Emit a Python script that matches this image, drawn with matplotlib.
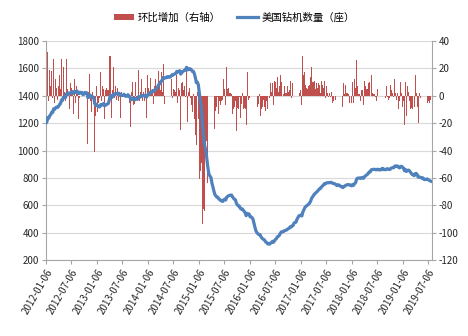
import matplotlib
matplotlib.use("Agg")
import matplotlib.pyplot as plt
import numpy as np
import pandas as pd

plt.rcParams['font.family'] = ['Noto Sans CJK SC', 'DejaVu Sans']
plt.rcParams['axes.unicode_minus'] = False

# weekly US rig count, starting 2012-01-06
start_date = "2012-01-06"
rig_count = [
    # 2012
    1200, 1208, 1240, 1236, 1255, 1262, 1280, 1278, 1305, 1300,
    1312, 1318, 1315, 1322, 1337, 1342, 1369, 1366, 1387, 1390,
    1386, 1413, 1418, 1421, 1411, 1420, 1426, 1430, 1417, 1429,
    1424, 1431, 1435, 1418, 1416, 1426, 1421, 1424, 1408, 1412,
    1424, 1418, 1421, 1386, 1389, 1405, 1401, 1389, 1392, 1386,
    1345, 1330,
    # 2013
    1337, 1325, 1320, 1318, 1335, 1331, 1338, 1343, 1326, 1330,
    1336, 1340, 1344, 1373, 1402, 1386, 1390, 1411, 1409, 1416,
    1413, 1419, 1415, 1418, 1402, 1405, 1401, 1404, 1411, 1398,
    1401, 1396, 1408, 1398, 1393, 1370, 1373, 1383, 1376, 1370,
    1380, 1377, 1374, 1393, 1389, 1392, 1404, 1400, 1403, 1399,
    1405, 1389,
    # 2014
    1404, 1410, 1413, 1426, 1430, 1435, 1429, 1436, 1448, 1452,
    1457, 1475, 1486, 1490, 1507, 1510, 1533, 1527, 1530, 1532,
    1539, 1536, 1540, 1536, 1541, 1553, 1551, 1556, 1560, 1563,
    1578, 1573, 1579, 1583, 1558, 1567, 1577, 1581, 1588, 1587,
    1608, 1589, 1592, 1598, 1596, 1589, 1577, 1578, 1561, 1532,
    1496, 1499,
    # 2015
    1482, 1421, 1366, 1317, 1223, 1140, 1056, 1019, 986, 922,
    866, 825, 813, 802, 760, 734, 703, 679, 668, 660,
    659, 646, 642, 635, 631, 628, 640, 645, 638, 659,
    664, 670, 672, 674, 675, 662, 652, 644, 640, 614,
    605, 595, 594, 578, 572, 574, 564, 555, 545, 524,
    541, 538,
    # 2016
    536, 516, 515, 510, 498, 467, 439, 413, 400, 392,
    386, 387, 372, 362, 354, 351, 343, 332, 328, 318,
    318, 316, 325, 328, 337, 330, 341, 351, 357, 371,
    374, 381, 396, 406, 406, 407, 414, 416, 418, 425,
    428, 432, 443, 441, 450, 452, 471, 474, 477, 498,
    510, 523,
    # 2017
    525, 529, 522, 551, 566, 583, 591, 597, 602, 609,
    617, 631, 652, 662, 672, 683, 688, 697, 703, 712,
    720, 722, 733, 741, 747, 758, 756, 763, 765, 764,
    766, 765, 768, 763, 759, 759, 756, 749, 744, 750,
    748, 743, 736, 737, 729, 738, 739, 747, 749, 751,
    752, 747,
    # 2018
    747, 742, 752, 747, 759, 765, 791, 798, 799, 800,
    796, 800, 804, 797, 808, 815, 820, 825, 834, 844,
    844, 859, 861, 862, 863, 862, 858, 863, 863, 858,
    861, 859, 869, 869, 860, 862, 860, 867, 866, 863,
    861, 869, 873, 875, 874, 886, 888, 885, 887, 877,
    873, 883,
    # 2019
    885, 877, 873, 852, 862, 847, 854, 857, 853, 843,
    834, 824, 824, 816, 831, 833, 825, 805, 807, 805,
    802, 797, 800, 789, 788, 789, 793, 788, 784, 779,
    776,
]

tick_dates = [
    "2012-01-06", "2012-07-06", "2013-01-06", "2013-07-06",
    "2014-01-06", "2014-07-06", "2015-01-06", "2015-07-06",
    "2016-01-06", "2016-07-06", "2017-01-06", "2017-07-06",
    "2018-01-06", "2018-07-06", "2019-01-06", "2019-07-06",
]
legend_labels = ["环比增加（右轴）", "美国钻机数量（座）"]
left_ticks = list(range(200, 1801, 200))
right_ticks = list(range(-120, 41, 20))

dates = pd.date_range(start_date, periods=len(rig_count), freq="7D")
weekly_change = np.diff(rig_count)

bar_color = "#C0504D"
line_color = "#4F81BD"
axis_color = "#A6A6A6"
text_color = "#262626"

fig = plt.figure(figsize=(4.68, 3.36), dpi=100)
ax = fig.add_axes([0.098, 0.226, 0.825, 0.652])
ax2 = ax.twinx()

# bars on the right axis
bars = ax.bar(dates[1:], weekly_change, width=6, color=bar_color, zorder=2)
ax.set_ylim(-120, 40)
ax.set_yticks(right_ticks)
ax.yaxis.tick_right()
ax.grid(axis="y", color="#D9D9D9", lw=0.8)
ax.set_axisbelow(True)
ax.set_xlim(pd.Timestamp("2012-01-06"), pd.Timestamp("2019-08-03"))
ax.set_xticks(pd.to_datetime(tick_dates))
ax.set_xticklabels(tick_dates, rotation=60, ha="right", rotation_mode="anchor")
ax.tick_params(axis="both", direction="out", length=3, width=0.8,
               color=axis_color, labelcolor=text_color, labelsize=7, pad=2)
ax.spines["top"].set_visible(False)
for side in ["left", "right", "bottom"]:
    ax.spines[side].set_color(axis_color)
    ax.spines[side].set_linewidth(0.8)

# rig count line on the left axis
line, = ax2.plot(dates, rig_count, color=line_color, lw=2.3, zorder=3)
ax2.set_ylim(200, 1800)
ax2.set_yticks(left_ticks)
ax2.yaxis.tick_left()
ax2.tick_params(axis="y", direction="out", length=3, width=0.8,
                color=axis_color, labelcolor=text_color, labelsize=7, pad=2)
for side in ax2.spines:
    ax2.spines[side].set_visible(False)

fig.legend([bars, line], legend_labels, loc="center", ncol=2,
           bbox_to_anchor=(0.5, 0.948), frameon=False, fontsize=7.5,
           handlelength=2.0, handleheight=0.6, columnspacing=1.6,
           handletextpad=0.3)

fig.savefig("out.png", dpi=100)
